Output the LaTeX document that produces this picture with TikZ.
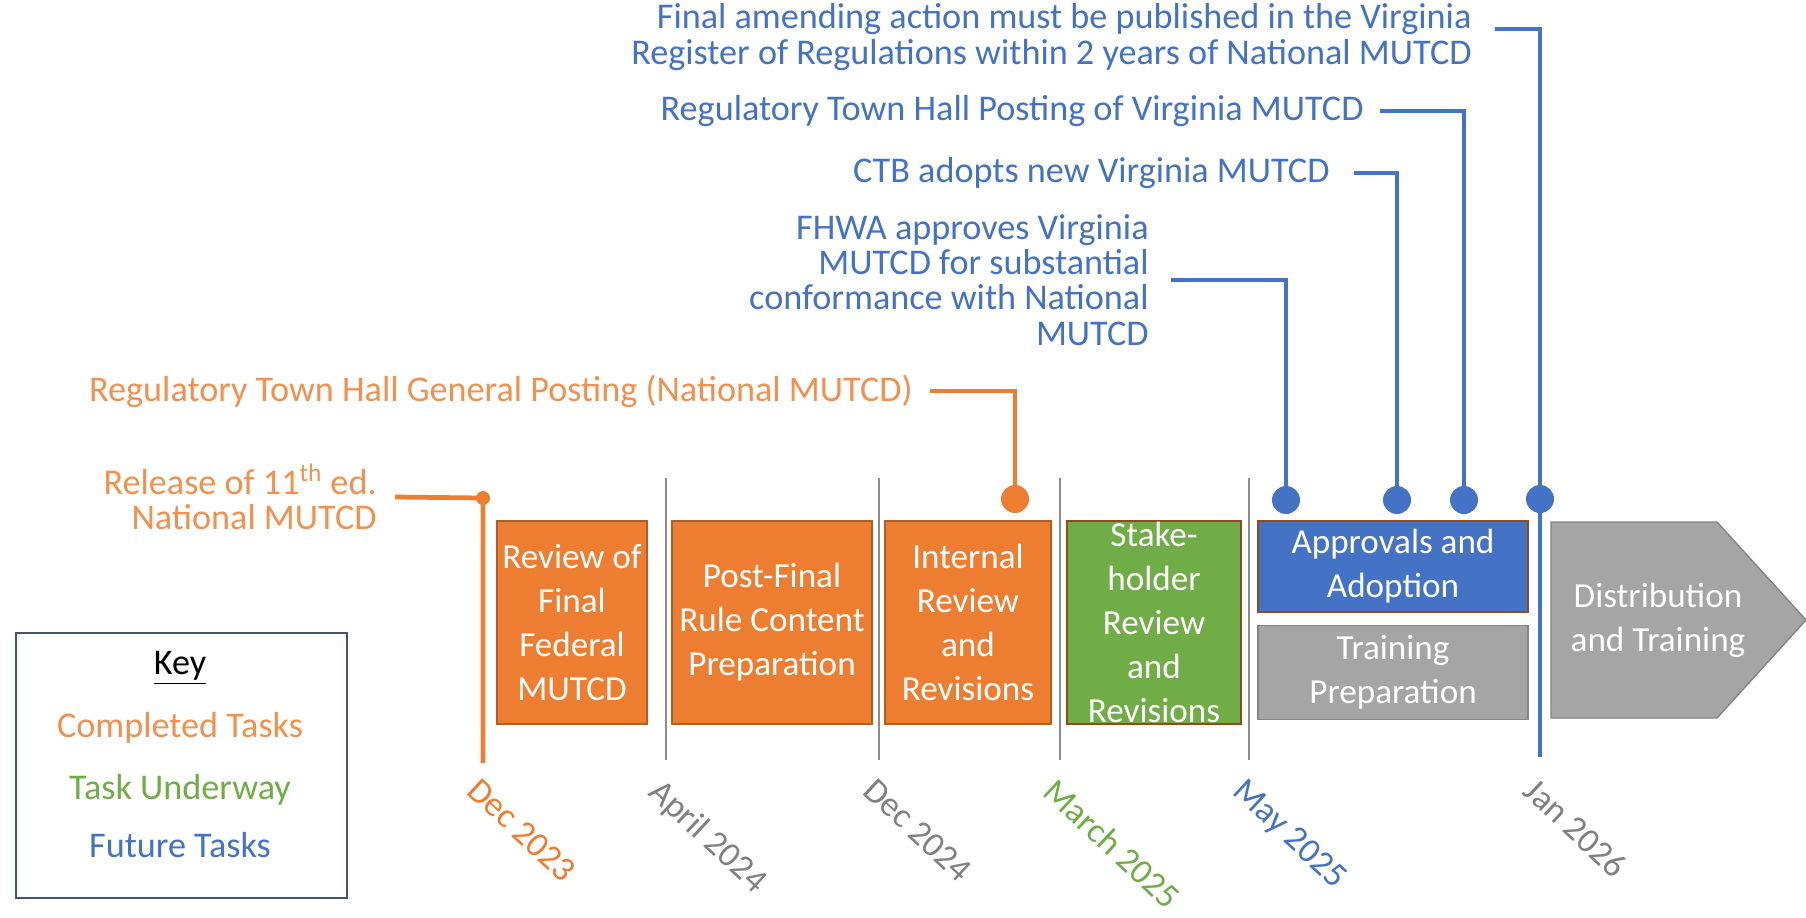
\documentclass[tikz,border=0pt]{standalone}
\usepackage{fontspec}
\setmainfont{Carlito}
\usetikzlibrary{positioning}

\definecolor{orng}{HTML}{ED7D31}
\definecolor{grn}{HTML}{70AD47}
\definecolor{blu}{HTML}{4472C4}
\definecolor{gry}{HTML}{A5A5A5}
\definecolor{keyedge}{HTML}{44546A}
\definecolor{datecol}{HTML}{808080}

\begin{document}
\begin{tikzpicture}[x=0.02cm,y=-0.02cm,
    every node/.style={inner sep=0pt, font=\fontsize{20.6}{20}\selectfont},
    task/.style={rectangle, text=white, align=center, line width=0.8pt,
                 font=\fontsize{20}{25}\selectfont},
    lbl/.style={anchor=east, align=right},
    lead/.style={line width=2.7pt},
    pin/.style={circle, minimum size=0.56cm},
    sep/.style={gry!85!black, line width=0.8pt},
    date/.style={rotate=-43, anchor=north west, font=\fontsize{20}{20}\selectfont}]
  \useasboundingbox (0,0) rectangle (1806,917);

  % month separators
  \foreach \x in {666,879,1060,1249}
    \draw[sep] (\x,478) -- (\x,760);

  % task boxes
  \node[task, fill=orng, draw=orng!75!black, minimum width=3cm, minimum height=4.06cm]
    (fedrev) at (572,622.5) {Review of\\Final\\Federal\\MUTCD};
  \node[task, fill=orng, draw=orng!75!black, minimum width=4cm, minimum height=4.06cm]
    (postfin) at (772,622.5) {Post-Final\\Rule Content\\Preparation};
  \node[task, fill=orng, draw=orng!75!black, minimum width=3.32cm, minimum height=4.06cm]
    (intrev) at (968,622.5) {Internal\\Review\\and\\Revisions};
  \node[task, fill=grn, draw=orng!60!black, minimum width=3.48cm, minimum height=4.06cm]
    (stkrev) at (1154,622.5) {Stake-\\holder\\Review\\and\\Revisions};
  \node[task, fill=blu, draw=orng!60!black, minimum width=5.4cm, minimum height=1.82cm]
    (appr) at (1393,566.5) {Approvals and\\Adoption};
  \node[task, fill=gry, draw=gry!80!black, minimum width=5.4cm, minimum height=1.88cm]
    (trainprep) [below=0.24cm of appr] {Training\\Preparation};

  % distribution arrow
  \draw[fill=gry, draw=gry!80!black, line width=0.8pt]
    (1551,522) -- (1717,522) -- (1806,620) -- (1717,718) -- (1551,718) -- cycle;
  \node[text=white, align=center, font=\fontsize{20}{25}\selectfont]
    (distr) at (1658,620) {Distribution\\and Training};

  % milestone texts
  \node[lbl, text=blu] (publish) at (1472,37)
    {Final amending action must be published in the Virginia\\
     Register of Regulations within 2 years of National MUTCD};
  \node[lbl, text=blu] (vapost) at (1364,111) {Regulatory Town Hall Posting of Virginia MUTCD};
  \node[lbl, text=blu] (ctb) at (1330,173) {CTB adopts new Virginia MUTCD};
  \node[lbl, text=blu] (fhwa) at (1149,280)
    {FHWA approves Virginia\\MUTCD for substantial\\conformance with National\\MUTCD};
  \node[lbl, text=orng!85!white] (genpost) at (913,391)
    {Regulatory Town Hall General Posting (National MUTCD)};
  \node[lbl, text=orng!85!white] (release) at (377,497)
    {Release of 11\textsuperscript{th} ed.\\National MUTCD};

  \coordinate (decend) at (483,763);
  \coordinate (janend) at (1540,757);

  % leaders
  \draw[lead, orng] ([xshift=0.36cm]release.east) -- (483,498) -- (decend);
  \draw[lead, orng] ([xshift=0.34cm]genpost.east) -| (1015,499);
  \draw[lead, blu] ([xshift=0.44cm]fhwa.east) -| (1286,500);
  \draw[lead, blu] ([xshift=0.48cm]ctb.east) -| (1397,500);
  \draw[lead, blu] ([xshift=0.32cm]vapost.east) -| (1464,500);
  \draw[lead, blu] ([xshift=0.46cm,yshift=0.16cm]publish.east) -| (janend);

  % pins
  \node[circle, fill=orng, minimum size=0.28cm] (relpin) at (483,498) {};
  \node[pin, fill=orng] (genpin) at (1015,499) {};
  \node[pin, fill=blu] (fhwapin) at (1286,500) {};
  \node[pin, fill=blu] (ctbpin) at (1397,500) {};
  \node[pin, fill=blu] (vapin) at (1464,500) {};
  \node[pin, fill=blu] (pubpin) at (1540,499) {};

  % dates
  \node[date, text=orng] (dec23) at (481,776) {Dec 2023};
  \node[date, text=datecol] (apr24) at (664,776) {April 2024};
  \node[date, text=datecol] (dec24) at (877,776) {Dec 2024};
  \node[date, text=grn] (mar25) at (1058,776) {March 2025};
  \node[date, text=blu] (may25) at (1247,776) {May 2025};
  \node[date, text=datecol] (jan26) at (1538,776) {Jan 2026};

  % key
  \draw[keyedge, line width=1.1pt] (16,633) rectangle (347,898);
  \node (keyhd) at (180,668) {\underline{Key}};
  \node[text=orng!85!white] (kdone) at (180,728) {Completed Tasks};
  \node[text=grn] (know) at (180,790) {Task Underway};
  \node[text=blu] (klater) at (180,845) {Future Tasks};
\end{tikzpicture}
\end{document}
